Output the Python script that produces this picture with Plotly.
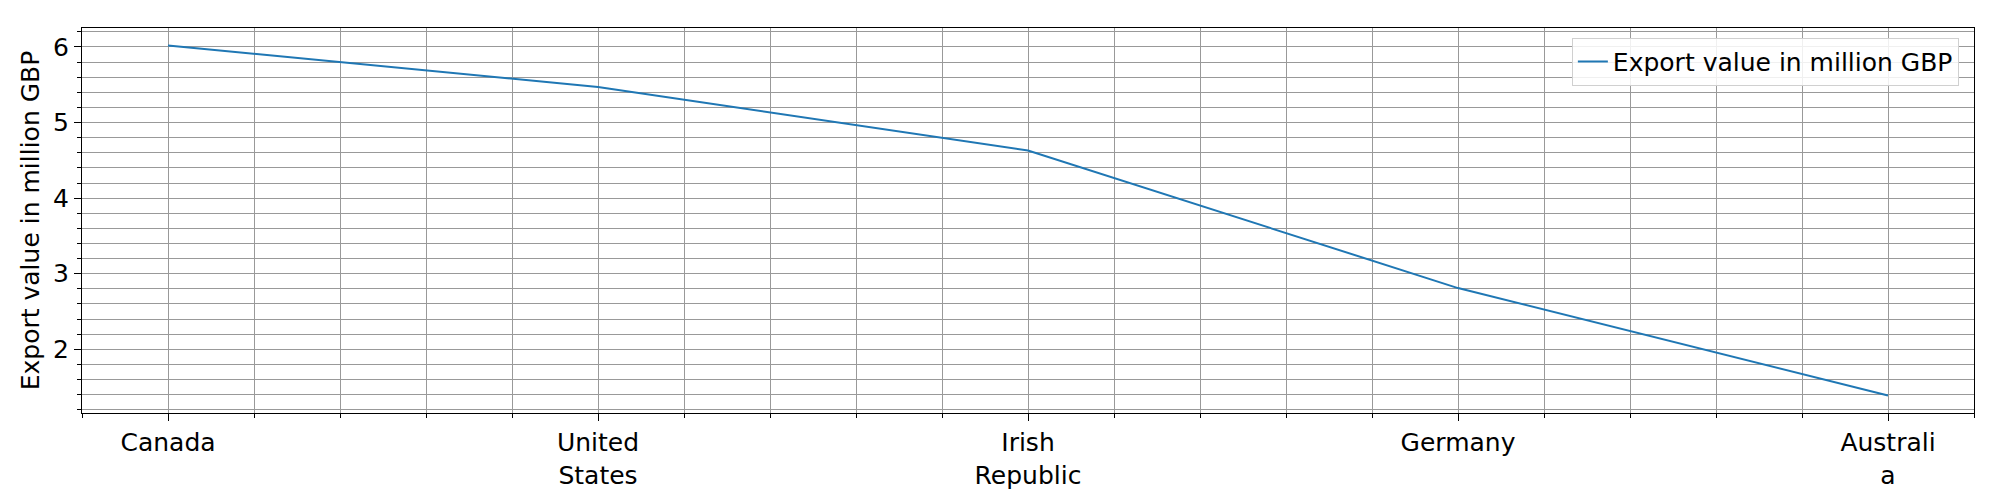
import plotly.graph_objects as go

categories = ["Canada", "United<br>States", "Irish<br>Republic", "Germany", "Australi<br>a"]
values = [6.02, 5.47, 4.63, 2.81, 1.39]
series_name = "Export value in million GBP"

xs = list(range(len(categories)))
fig = go.Figure(go.Scatter(x=xs, y=values, mode="lines", name=series_name,
                           line=dict(color="#1f77b4", width=2)))
font = dict(family="DejaVu Sans", size=25, color="black")
axcommon = dict(showline=True, linecolor="black", linewidth=1.3, mirror=True,
                ticks="outside", ticklen=7, tickcolor="black",
                gridcolor="#999999", gridwidth=1, zeroline=False,
                tickfont=font)
fig.update_xaxes(range=[-0.2, 4.2], tickvals=xs, ticktext=categories,
                 minor=dict(dtick=0.2, tick0=0, showgrid=True, gridcolor="#999999",
                            ticks="outside", ticklen=4, tickcolor="black"),
                 **axcommon)
fig.update_yaxes(range=[1.158, 6.25], tickvals=[2, 3, 4, 5, 6],
                 minor=dict(dtick=0.2, tick0=0, showgrid=True, gridcolor="#999999",
                            ticks="outside", ticklen=4, tickcolor="black"),
                 title=dict(text="Export value in million GBP", font=font, standoff=6),
                 **axcommon)
fig.update_layout(width=2000, height=500, plot_bgcolor="white", paper_bgcolor="white",
                  margin=dict(l=74, r=34, t=20, b=95), font=font,
                  showlegend=True,
                  legend=dict(x=0.992, y=0.975, xanchor="right", yanchor="top",
                              bgcolor="rgba(255,255,255,0.85)", bordercolor="#d0d0d0",
                              borderwidth=1, font=font))
fig.write_html("out.html")
